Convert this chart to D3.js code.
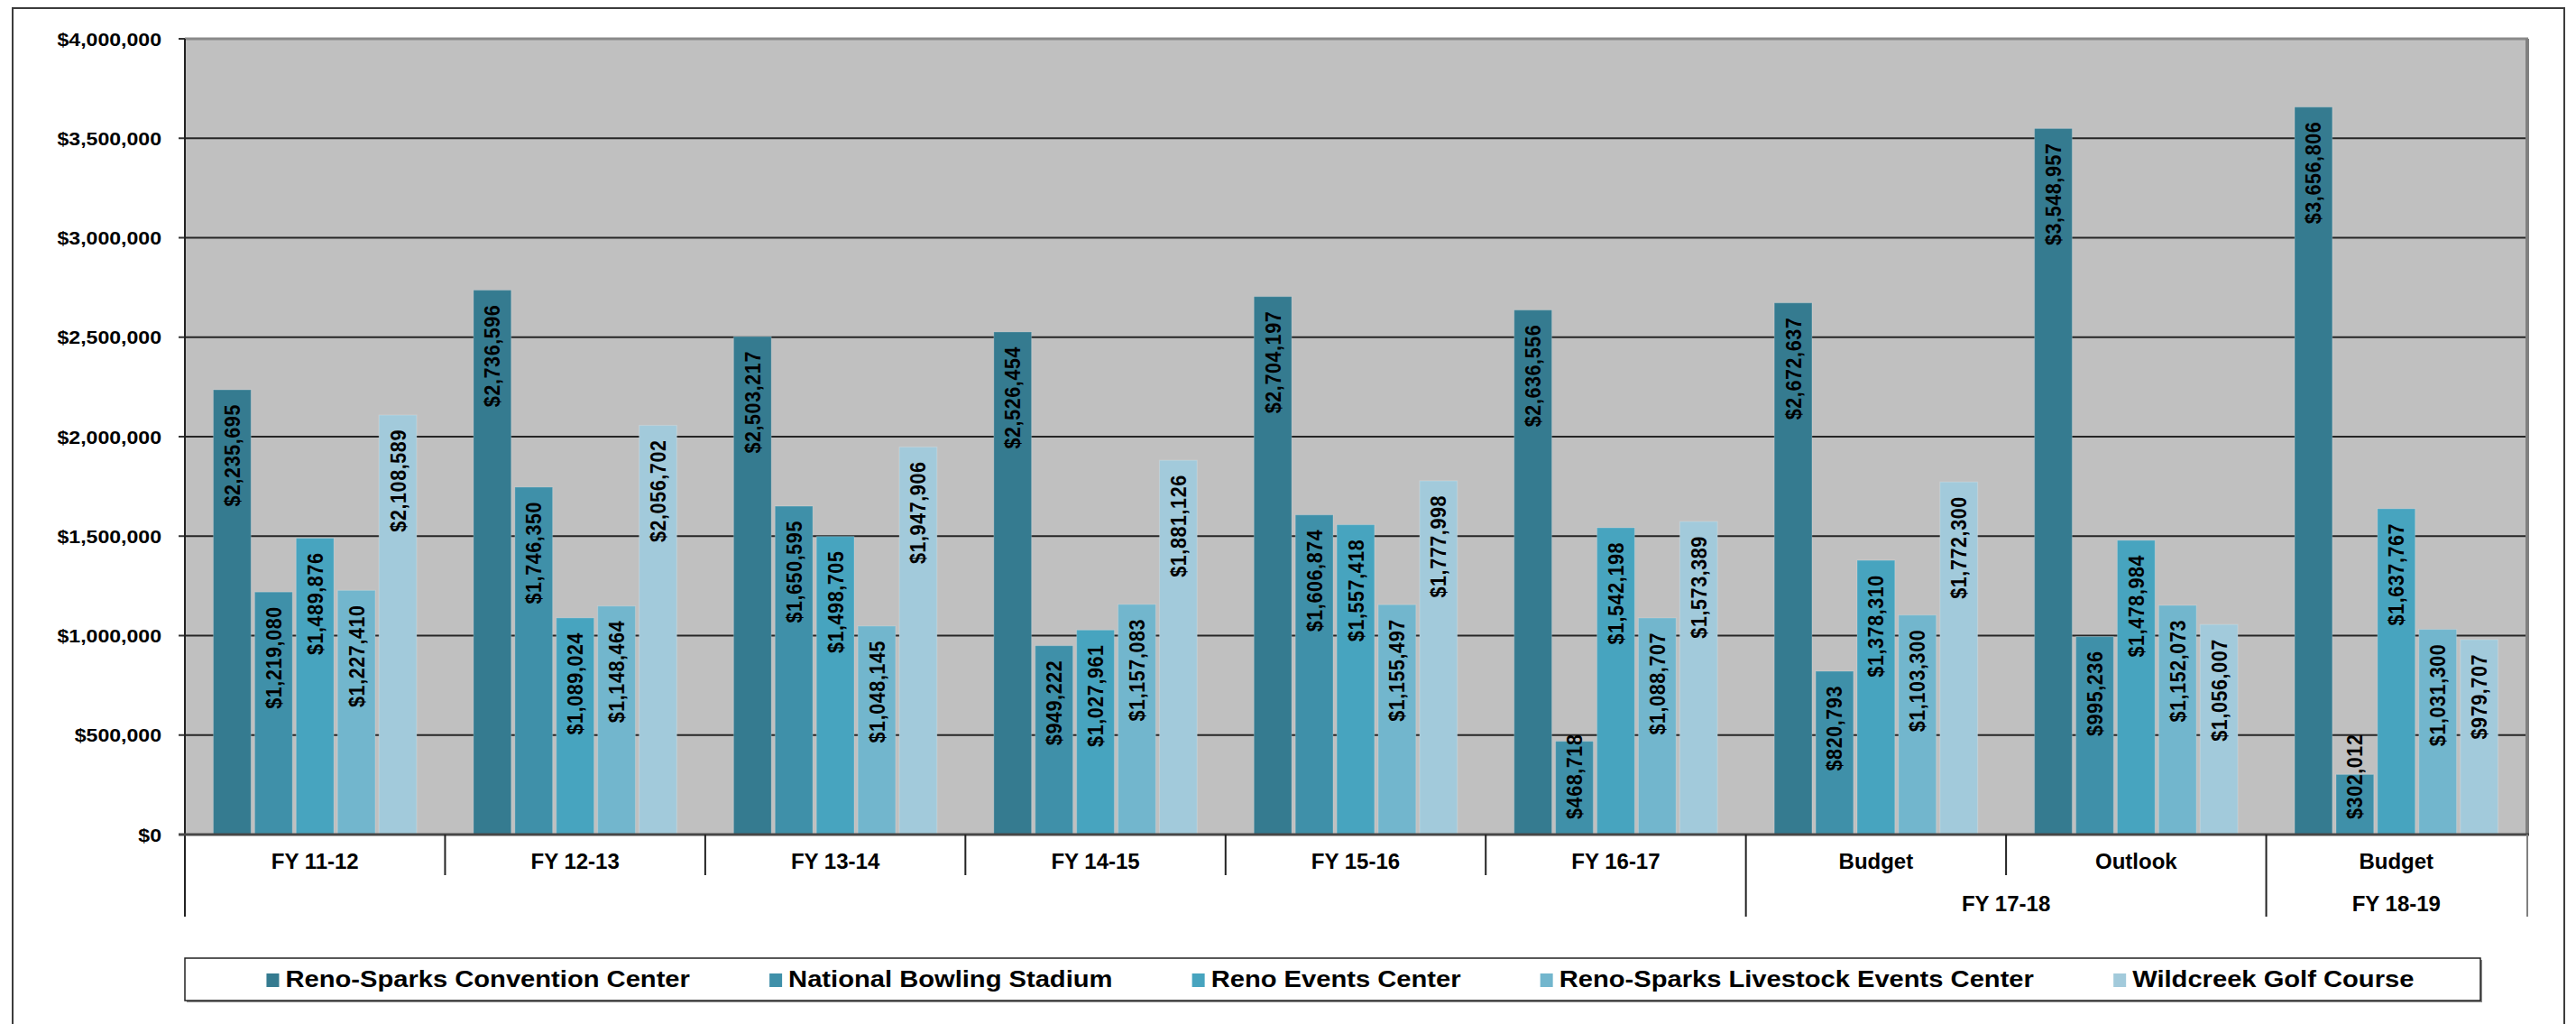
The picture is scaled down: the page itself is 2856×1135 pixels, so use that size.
<!DOCTYPE html>
<html lang="en">
<head>
<meta charset="UTF-8">
<title>Facility revenue by fiscal year</title>
<script src="https://d3js.org/d3.v7.min.js"></script>
<style>
  body { margin: 0; background: #fff; overflow: hidden; }
  svg text { font-family: Arial, "Liberation Sans", sans-serif; font-weight: bold; fill: #000; }
</style>
</head>
<body>
<script>
// categories along the x axis (two levels)
var categories = ["FY 11-12", "FY 12-13", "FY 13-14", "FY 14-15", "FY 15-16", "FY 16-17", "Budget", "Outlook", "Budget"];
var periods = [
    { label: "FY 17-18", first: 6, last: 7 },
    { label: "FY 18-19", first: 8, last: 8 }
];

var series = ["Reno-Sparks Convention Center", "National Bowling Stadium", "Reno Events Center",
              "Reno-Sparks Livestock Events Center", "Wildcreek Golf Course"];

// one array per facility, same order as categories
var conventionCenter = [2235695, 2736596, 2503217, 2526454, 2704197, 2636556, 2672637, 3548957, 3656806];
var bowlingStadium   = [1219080, 1746350, 1650595,  949222, 1606874,  468718,  820793,  995236,  302012];
var eventsCenter     = [1489876, 1089024, 1498705, 1027961, 1557418, 1542198, 1378310, 1478984, 1637767];
var livestockCenter  = [1227410, 1148464, 1048145, 1157083, 1155497, 1088707, 1103300, 1152073, 1031300];
var golfCourse       = [2108589, 2056702, 1947906, 1881126, 1777998, 1573389, 1772300, 1056007,  979707];

var yTicks = [0, 500000, 1000000, 1500000, 2000000, 2500000, 3000000, 3500000, 4000000];
var colors = ["#357b90", "#3f90a9", "#47a4bf", "#72b6cd", "#a2cadb"];

var values = [conventionCenter, bowlingStadium, eventsCenter, livestockCenter, golfCourse];

var width = 2856,
    height = 1135;

var plot = { left: 205, top: 43, right: 2801, bottom: 925 };

var svg = d3.select("body").append("svg")
    .attr("width", width)
    .attr("height", height);

// outer chart frame (bottom edge falls outside the picture)
svg.append("path")
    .attr("d", "M14,1140 V9 H2843 V1140")
    .attr("fill", "none")
    .attr("stroke", "#3c3c3c")
    .attr("stroke-width", 2);

var x0 = d3.scaleBand()
    .domain(d3.range(categories.length))
    .range([plot.left, plot.right])
    .padding(0);

var groupPad = 31.5;
var x1 = d3.scaleBand()
    .domain(d3.range(series.length))
    .range([groupPad, x0.bandwidth() - groupPad])
    .paddingInner(0.09);

var y = d3.scaleLinear()
    .domain([0, 4000000])
    .range([plot.bottom, plot.top]);

// plot background
svg.append("rect")
    .attr("x", plot.left)
    .attr("y", plot.top)
    .attr("width", plot.right - plot.left)
    .attr("height", plot.bottom - plot.top)
    .attr("fill", "#c0c0c0");

// gridlines
svg.append("g")
    .selectAll("line")
    .data(yTicks.slice(1, -1))
    .enter()
    .append("line")
        .attr("x1", plot.left)
        .attr("x2", plot.right)
        .attr("y1", function(d) { return y(d); })
        .attr("y2", function(d) { return y(d); })
        .attr("stroke", "#262626")
        .attr("stroke-width", 2);

// plot border: top and right in gray, with a shadow on the right
svg.append("line")
    .attr("x1", plot.left).attr("x2", plot.right + 2)
    .attr("y1", plot.top).attr("y2", plot.top)
    .attr("stroke", "#8a8a8a").attr("stroke-width", 3);
svg.append("line")
    .attr("x1", plot.right + 1).attr("x2", plot.right + 1)
    .attr("y1", plot.top).attr("y2", plot.bottom)
    .attr("stroke", "#808080").attr("stroke-width", 4);

// bars
var groups = svg.append("g")
    .selectAll("g")
    .data(categories)
    .enter()
    .append("g")
        .attr("transform", function(d, i) { return "translate(" + x0(i) + ",0)"; });

var bars = groups.selectAll("g")
    .data(function(d, i) {
        return values.map(function(arr, s) { return { s: s, v: arr[i] }; });
    })
    .enter()
    .append("g");

bars.append("rect")
    .attr("x", function(d) { return x1(d.s); })
    .attr("y", function(d) { return y(d.v); })
    .attr("width", x1.bandwidth())
    .attr("height", function(d) { return y(0) - y(d.v); })
    .attr("fill", function(d) { return colors[d.s]; })
    .attr("stroke", "rgba(255,255,255,0.18)")
    .attr("stroke-width", 1.2);

// value labels, rotated, at the inside end of each bar
var fmt = d3.format("$,.0f");
var pad = 16;
bars.append("text")
    .text(function(d) { return fmt(d.v); })
    .attr("text-anchor", "end")
    .attr("dy", "0.36em")
    .style("font-size", "21.5px")
    .style("letter-spacing", "0.6px")
    .attr("transform", function(d) {
        var len = this.getComputedTextLength();
        var cx = x1(d.s) + x1.bandwidth() / 2;
        var end = Math.min(y(d.v) + pad, y(0) - 17 - len);
        return "translate(" + cx + "," + end + ") rotate(-90) scale(1,1.1)";
    });

// y axis: labels and tick marks
var yAxis = svg.append("g");
yAxis.selectAll("line")
    .data(yTicks)
    .enter()
    .append("line")
        .attr("x1", plot.left - 7)
        .attr("x2", plot.left)
        .attr("y1", function(d) { return y(d); })
        .attr("y2", function(d) { return y(d); })
        .attr("stroke", "#333")
        .attr("stroke-width", 2);

yAxis.selectAll("text")
    .data(yTicks)
    .enter()
    .append("text")
        .attr("text-anchor", "end")
        .attr("dy", "0.36em")
        .style("font-size", "21px")
        .attr("transform", function(d) { return "translate(179," + y(d) + ") scale(1.1,1)"; })
        .text(function(d) { return fmt(d); });

// left axis line, carried down as the outer category divider
svg.append("line")
    .attr("x1", plot.left).attr("x2", plot.left)
    .attr("y1", plot.top).attr("y2", 1016)
    .attr("stroke", "#222").attr("stroke-width", 2);

// zero line
svg.append("line")
    .attr("x1", plot.left - 7).attr("x2", plot.right + 3)
    .attr("y1", y(0)).attr("y2", y(0))
    .attr("stroke", "#474747").attr("stroke-width", 3);

// category dividers
var outerEdges = [0, 6, 8, categories.length];
svg.append("g")
    .selectAll("line")
    .data(d3.range(1, categories.length + 1))
    .enter()
    .append("line")
        .attr("x1", function(i) { return i === categories.length ? plot.right + 1 : x0(i); })
        .attr("x2", function(i) { return i === categories.length ? plot.right + 1 : x0(i); })
        .attr("y1", y(0))
        .attr("y2", function(i) { return outerEdges.indexOf(i) >= 0 ? 1016 : 970; })
        .attr("stroke", function(i) { return i === categories.length ? "#808080" : "#222"; })
        .attr("stroke-width", 2);

// category labels, first level
svg.append("g")
    .selectAll("text")
    .data(categories)
    .enter()
    .append("text")
        .attr("x", function(d, i) { return x0(i) + x0.bandwidth() / 2; })
        .attr("y", 963)
        .attr("text-anchor", "middle")
        .style("font-size", "24px")
        .text(function(d) { return d; });

// second level
svg.append("g")
    .selectAll("text")
    .data(periods)
    .enter()
    .append("text")
        .attr("x", function(d) { return (x0(d.first) + x0(d.last) + x0.bandwidth()) / 2; })
        .attr("y", 1010)
        .attr("text-anchor", "middle")
        .style("font-size", "24px")
        .text(function(d) { return d.label; });

// legend
var legendBox = { x: 205, y: 1062, w: 2545, h: 47 };
svg.append("rect")
    .attr("x", legendBox.x + 2).attr("y", legendBox.y + 2)
    .attr("width", legendBox.w).attr("height", legendBox.h)
    .attr("fill", "#8c8c8c");
svg.append("rect")
    .attr("x", legendBox.x).attr("y", legendBox.y)
    .attr("width", legendBox.w).attr("height", legendBox.h)
    .attr("fill", "#fff")
    .attr("stroke", "#222")
    .attr("stroke-width", 1.5);

var legend = svg.append("g");
var legendScale = 1.1, swatchGap = 7, entryGap = 88;
var entries = legend.selectAll("g")
    .data(series)
    .enter()
    .append("g");

entries.append("rect")
    .attr("width", 14)
    .attr("height", 15)
    .attr("y", 1079)
    .attr("fill", function(d, i) { return colors[i]; });

entries.append("text")
    .style("font-size", "26.5px")
    .text(function(d) { return d; });

var cursor = 0, widths = [];
entries.each(function() {
    var w = d3.select(this).select("text").node().getComputedTextLength() * legendScale;
    widths.push(w);
});
var total = d3.sum(widths) + series.length * (14 + swatchGap) + (series.length - 1) * entryGap;
cursor = 1486 - total / 2;
entries.each(function(d, i) {
    var g = d3.select(this);
    g.select("rect").attr("x", cursor);
    g.select("text").attr("transform", "translate(" + (cursor + 14 + swatchGap) + ",1094) scale(" + legendScale + ",1)");
    cursor += 14 + swatchGap + widths[i] + entryGap;
});
</script>
</body>
</html>
